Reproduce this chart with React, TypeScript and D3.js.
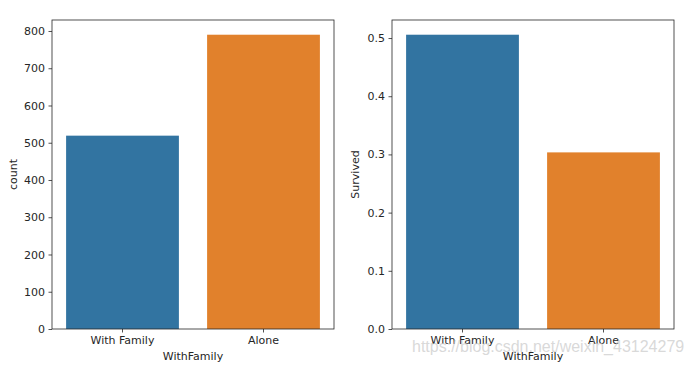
import React, { useEffect, useRef } from 'react';
import * as d3 from 'd3';

// data
const categories = ['With Family', 'Alone'];
const countValues = [519, 790];
const survivedValues = [0.5057, 0.3035];
const countTicks = [0, 100, 200, 300, 400, 500, 600, 700, 800];
const survivedTicks = [0, 0.1, 0.2, 0.3, 0.4, 0.5];
const barColors = ['#3274a1', '#e1812c'];
const xLabel = 'WithFamily';
const watermark = 'https://blog.csdn.net/weixin_43124279';

const W = 693;
const H = 366;
const FONT = '"DejaVu Sans", sans-serif';
const INK = '#262626';

type Panel = {
  left: number;
  right: number;
  values: number[];
  ticks: number[];
  yLabel: string;
  yLabelX: number;
  fmt: (v: number) => string;
};

const App = () => {
  const svgRef = useRef<SVGSVGElement>(null);

  useEffect(() => {
    const svg = d3.select(svgRef.current);
    svg.selectAll('*').remove();

    const top = 20;
    const bottom = 329;

    const panels: Panel[] = [
      { left: 52, right: 334, values: countValues, ticks: countTicks, yLabel: 'count', yLabelX: 13, fmt: d3.format('d') },
      { left: 392, right: 674, values: survivedValues, ticks: survivedTicks, yLabel: 'Survived', yLabelX: 355, fmt: d3.format('.1f') },
    ];

    panels.forEach((p) => {
      const x = d3.scaleBand<string>()
        .domain(categories)
        .range([p.left, p.right])
        .paddingInner(0)
        .paddingOuter(0);

      // matplotlib autoscale: 5% margin above the tallest bar
      const yMax = (d3.max(p.values) as number) * 1.05;
      const y = d3.scaleLinear().domain([0, yMax]).range([bottom, top]);

      const g = svg.append('g');

      // bars (80% of the band, like seaborn)
      const bw = x.bandwidth() * 0.8;
      g.selectAll('rect.bar')
        .data(p.values)
        .enter().append('rect')
        .attr('class', 'bar')
        .attr('x', (d, i) => (x(categories[i]) as number) + (x.bandwidth() - bw) / 2)
        .attr('y', (d) => y(d))
        .attr('width', bw)
        .attr('height', (d) => bottom - y(d))
        .attr('fill', (d, i) => barColors[i]);

      // y axis
      const yAxis = g.append('g')
        .attr('transform', `translate(${p.left},0)`)
        .call(d3.axisLeft(y).tickValues(p.ticks).tickFormat((v) => p.fmt(v as number)).tickSize(3.5).tickPadding(3.5));
      yAxis.select('.domain').remove();

      // x axis
      const xAxis = g.append('g')
        .attr('transform', `translate(0,${bottom})`)
        .call(d3.axisBottom(x).tickSize(3.5).tickPadding(3.5));
      xAxis.select('.domain').remove();

      [yAxis, xAxis].forEach((a) => {
        a.selectAll('text')
          .style('font-family', FONT)
          .style('font-size', '11px')
          .attr('fill', INK);
        a.selectAll('line').attr('stroke', INK).attr('stroke-width', 0.8);
      });

      // frame
      g.append('rect')
        .attr('x', p.left)
        .attr('y', top)
        .attr('width', p.right - p.left)
        .attr('height', bottom - top)
        .attr('fill', 'none')
        .attr('stroke', INK)
        .attr('stroke-width', 0.8);

      // axis labels
      g.append('text')
        .attr('x', (p.left + p.right) / 2)
        .attr('y', 360)
        .attr('text-anchor', 'middle')
        .style('font-family', FONT)
        .style('font-size', '11px')
        .attr('fill', INK)
        .text(xLabel);

      g.append('text')
        .attr('transform', `translate(${p.yLabelX},${(top + bottom) / 2}) rotate(-90)`)
        .attr('text-anchor', 'middle')
        .attr('dy', '0.35em')
        .style('font-family', FONT)
        .style('font-size', '11px')
        .attr('fill', INK)
        .text(p.yLabel);
    });

    // csdn watermark
    svg.append('text')
      .attr('x', 412)
      .attr('y', 352)
      .style('font-family', '"Liberation Sans", Arial, sans-serif')
      .style('font-size', '16px')
      .attr('fill', '#c8c8c8')
      .attr('fill-opacity', 0.7)
      .text(watermark);
  }, []);

  return (
    <svg
      ref={svgRef}
      width={W}
      height={H}
      style={{ position: 'absolute', left: 0, top: 0, background: '#fff' }}
    />
  );
};

export default App;
